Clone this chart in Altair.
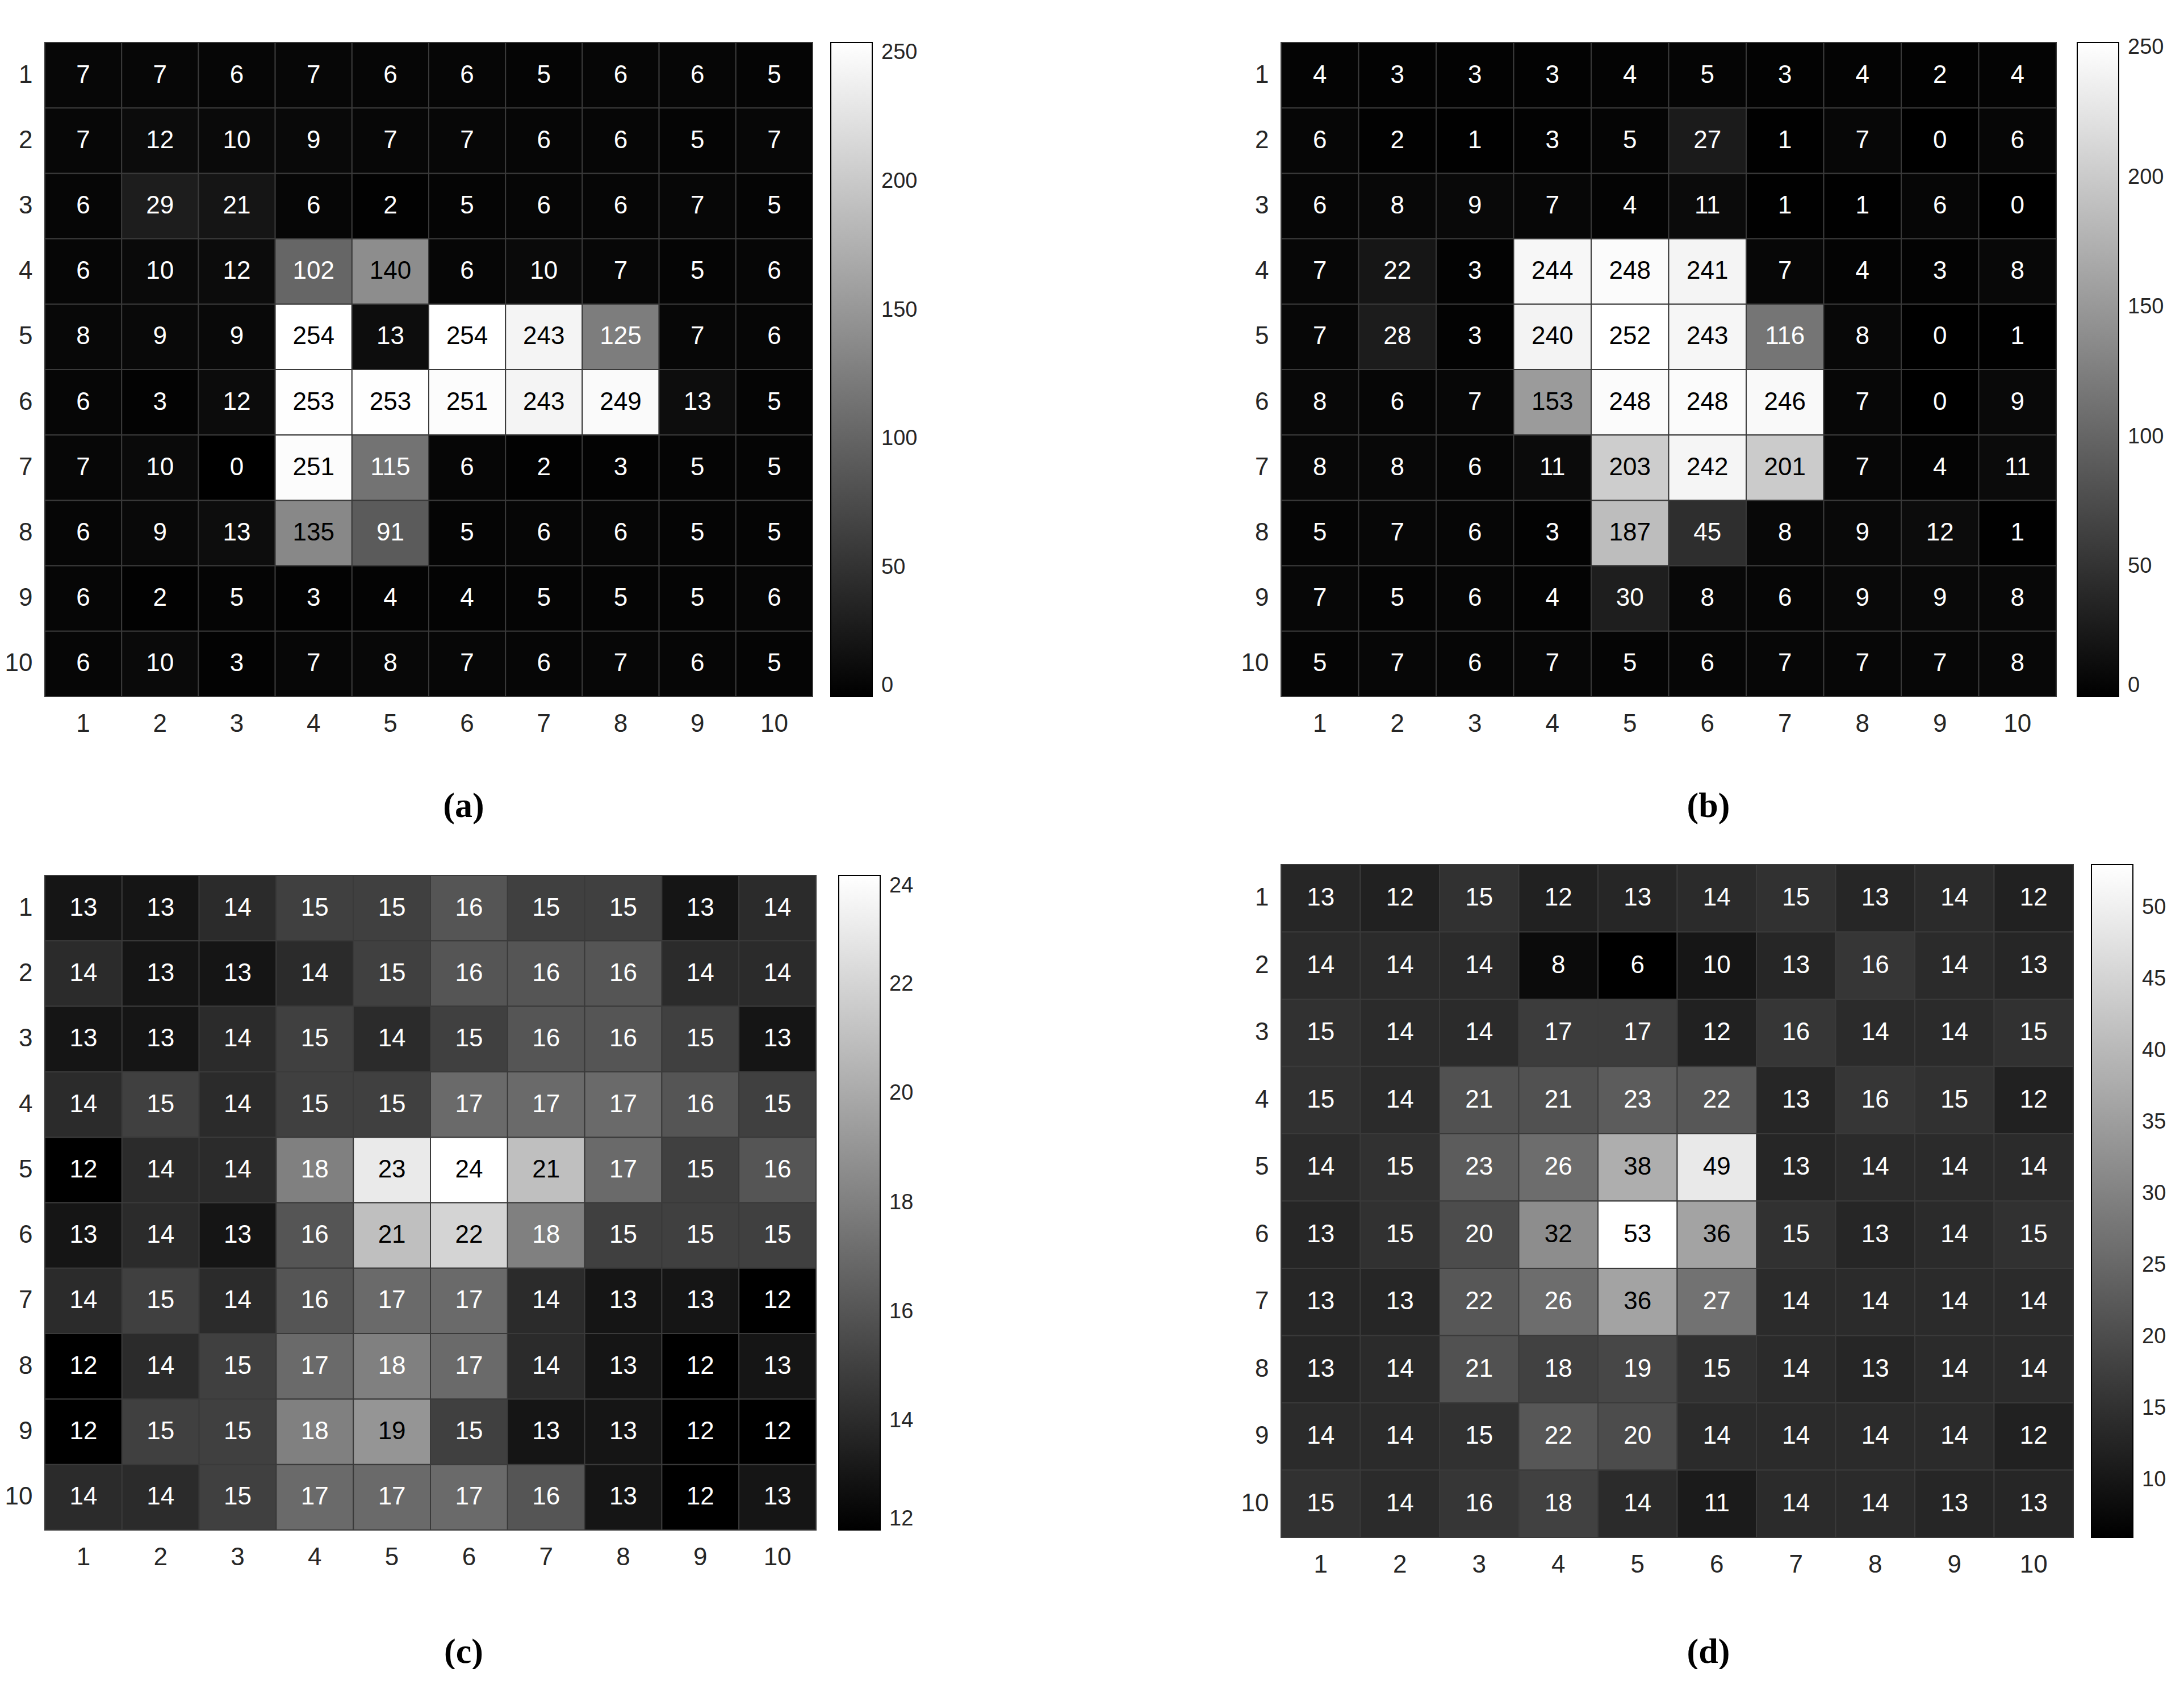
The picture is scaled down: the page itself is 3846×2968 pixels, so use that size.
import altair as alt
import pandas as pd

rows = list(range(1, 11))
cols = list(range(1, 11))

panel_a = [
    [7, 7, 6, 7, 6, 6, 5, 6, 6, 5],
    [7, 12, 10, 9, 7, 7, 6, 6, 5, 7],
    [6, 29, 21, 6, 2, 5, 6, 6, 7, 5],
    [6, 10, 12, 102, 140, 6, 10, 7, 5, 6],
    [8, 9, 9, 254, 13, 254, 243, 125, 7, 6],
    [6, 3, 12, 253, 253, 251, 243, 249, 13, 5],
    [7, 10, 0, 251, 115, 6, 2, 3, 5, 5],
    [6, 9, 13, 135, 91, 5, 6, 6, 5, 5],
    [6, 2, 5, 3, 4, 4, 5, 5, 5, 6],
    [6, 10, 3, 7, 8, 7, 6, 7, 6, 5],
]
panel_b = [
    [4, 3, 3, 3, 4, 5, 3, 4, 2, 4],
    [6, 2, 1, 3, 5, 27, 1, 7, 0, 6],
    [6, 8, 9, 7, 4, 11, 1, 1, 6, 0],
    [7, 22, 3, 244, 248, 241, 7, 4, 3, 8],
    [7, 28, 3, 240, 252, 243, 116, 8, 0, 1],
    [8, 6, 7, 153, 248, 248, 246, 7, 0, 9],
    [8, 8, 6, 11, 203, 242, 201, 7, 4, 11],
    [5, 7, 6, 3, 187, 45, 8, 9, 12, 1],
    [7, 5, 6, 4, 30, 8, 6, 9, 9, 8],
    [5, 7, 6, 7, 5, 6, 7, 7, 7, 8],
]
panel_c = [
    [13, 13, 14, 15, 15, 16, 15, 15, 13, 14],
    [14, 13, 13, 14, 15, 16, 16, 16, 14, 14],
    [13, 13, 14, 15, 14, 15, 16, 16, 15, 13],
    [14, 15, 14, 15, 15, 17, 17, 17, 16, 15],
    [12, 14, 14, 18, 23, 24, 21, 17, 15, 16],
    [13, 14, 13, 16, 21, 22, 18, 15, 15, 15],
    [14, 15, 14, 16, 17, 17, 14, 13, 13, 12],
    [12, 14, 15, 17, 18, 17, 14, 13, 12, 13],
    [12, 15, 15, 18, 19, 15, 13, 13, 12, 12],
    [14, 14, 15, 17, 17, 17, 16, 13, 12, 13],
]
panel_d = [
    [13, 12, 15, 12, 13, 14, 15, 13, 14, 12],
    [14, 14, 14, 8, 6, 10, 13, 16, 14, 13],
    [15, 14, 14, 17, 17, 12, 16, 14, 14, 15],
    [15, 14, 21, 21, 23, 22, 13, 16, 15, 12],
    [14, 15, 23, 26, 38, 49, 13, 14, 14, 14],
    [13, 15, 20, 32, 53, 36, 15, 13, 14, 15],
    [13, 13, 22, 26, 36, 27, 14, 14, 14, 14],
    [13, 14, 21, 18, 19, 15, 14, 13, 14, 14],
    [14, 14, 15, 22, 20, 14, 14, 14, 14, 12],
    [15, 14, 16, 18, 14, 11, 14, 14, 13, 13],
]

ticks_a = [0, 50, 100, 150, 200, 250]
ticks_b = [0, 50, 100, 150, 200, 250]
ticks_c = [12, 14, 16, 18, 20, 22, 24]
ticks_d = [10, 15, 20, 25, 30, 35, 40, 45, 50]

tags = ["(a)", "(b)", "(c)", "(d)"]

LABEL_COLOR = "#262626"


def panel(vals, w, h, ticks, leg_offset, tag, title_x, title_y):
    df = pd.DataFrame(
        [{"row": r, "col": c, "v": vals[r - 1][c - 1]} for r in rows for c in cols]
    )
    lo, hi = float(df.v.min()), float(df.v.max())
    thr = lo + 0.5 * (hi - lo)
    base = alt.Chart(df).encode(
        x=alt.X(
            "col:O",
            scale=alt.Scale(paddingInner=0, paddingOuter=0),
            axis=alt.Axis(
                title=tag,
                labelAngle=0,
                ticks=False,
                tickSize=0,
                domain=False,
                labelPadding=26,
                labelFont="Liberation Sans",
                labelFontSize=44,
                labelColor=LABEL_COLOR,
                titleFont="Liberation Serif",
                titleFontWeight="bold",
                titleFontSize=62,
                titleColor="black",
                titleX=title_x,
                titleY=title_y,
                titleAlign="center",
                titleBaseline="middle",
            ),
        ),
        y=alt.Y(
            "row:O",
            scale=alt.Scale(paddingInner=0, paddingOuter=0),
            axis=alt.Axis(
                title=None,
                ticks=False,
                tickSize=0,
                domain=False,
                labelPadding=22,
                labelFont="Liberation Sans",
                labelFontSize=44,
                labelColor=LABEL_COLOR,
            ),
        ),
    )
    rect = base.mark_rect(stroke="#3a3a3a", strokeWidth=2).encode(
        color=alt.Color(
            "v:Q",
            scale=alt.Scale(domain=[lo, hi], range=["black", "white"], interpolate="rgb"),
            legend=alt.Legend(
                title=None,
                orient="right",
                direction="vertical",
                offset=leg_offset,
                padding=0,
                values=ticks,
                format="d",
                gradientLength=h,
                gradientThickness=73,
                gradientStrokeColor="black",
                gradientStrokeWidth=2,
                labelFont="Liberation Sans",
                labelFontSize=38,
                labelColor=LABEL_COLOR,
                labelOffset=16,
                labelOverlap=False,
            ),
        )
    )
    text = base.mark_text(font="Liberation Sans", fontSize=44).encode(
        text=alt.Text("v:Q", format="d"),
        color=alt.condition(f"datum.v > {thr}", alt.value("black"), alt.value("white")),
    )
    return (rect + text).properties(width=w, height=h)


a = panel(panel_a, 1352, 1152, ticks_a, 32, tags[0], 737, 192)
b = panel(panel_b, 1365, 1152, ticks_b, 37, tags[1], 752, 192)
c = panel(panel_c, 1358, 1153, ticks_c, 40, tags[2], 737, 214)
d = panel(panel_d, 1395, 1185, ticks_d, 32, tags[3], 752, 201)

col1 = alt.vconcat(a, c, spacing=91).resolve_scale(color="independent", x="independent", y="independent").resolve_legend(color="independent")
col2 = alt.vconcat(b, d, spacing=72).resolve_scale(color="independent", x="independent", y="independent").resolve_legend(color="independent")

chart = (
    alt.hconcat(col1, col2, spacing=569)
    .resolve_scale(color="independent", x="independent", y="independent")
    .resolve_legend(color="independent")
    .properties(padding={"left": 0, "top": 66, "right": 0, "bottom": 0}, background="white")
    .configure_view(stroke=None)
)

chart.save("out.html", embed_options={"renderer": "svg", "actions": False})
